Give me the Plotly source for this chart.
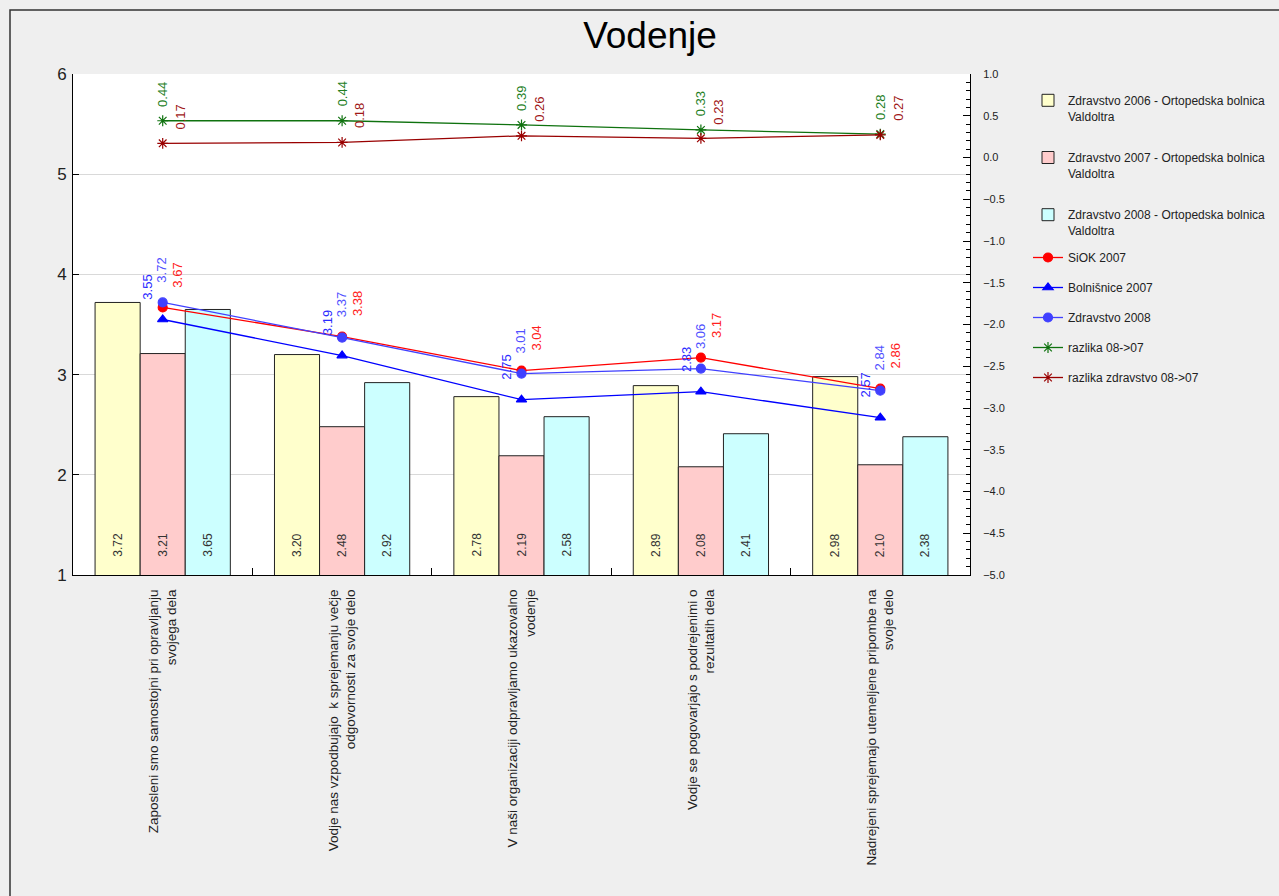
import plotly.graph_objects as go

# Survey questions (x categories)
categories = [
    "Zaposleni smo samostojni pri opravljanju<br>svojega dela",
    "Vodje nas vzpodbujajo  k sprejemanju večje<br>odgovornosti za svoje delo",
    "V naši organizaciji odpravljamo ukazovalno<br>vodenje",
    "Vodje se pogovarjajo s podrejenimi o<br>rezultatih dela",
    "Nadrejeni sprejemajo utemeljene pripombe na<br>svoje delo",
]

# Bar series (left axis)
zdravstvo_2006 = [3.72, 3.20, 2.78, 2.89, 2.98]
zdravstvo_2007 = [3.21, 2.48, 2.19, 2.08, 2.10]
zdravstvo_2008 = [3.65, 2.92, 2.58, 2.41, 2.38]

# Line series (left axis)
siok_2007 = [3.67, 3.38, 3.04, 3.17, 2.86]
bolnisnice_2007 = [3.55, 3.19, 2.75, 2.83, 2.57]
zdravstvo_2008_avg = [3.72, 3.37, 3.01, 3.06, 2.84]

# Differences (right axis)
razlika_08_07 = [0.44, 0.44, 0.39, 0.33, 0.28]
razlika_zdr_08_07 = [0.17, 0.18, 0.26, 0.23, 0.27]

FONT = "Liberation Sans, Arial, sans-serif"

fig = go.Figure()

bar_series = [
    ("Zdravstvo 2006 - Ortopedska bolnica<br>Valdoltra", zdravstvo_2006, "#ffffcc"),
    ("Zdravstvo 2007 - Ortopedska bolnica<br>Valdoltra", zdravstvo_2007, "#ffcccc"),
    ("Zdravstvo 2008 - Ortopedska bolnica<br>Valdoltra", zdravstvo_2008, "#ccffff"),
]
for i, (name, vals, col) in enumerate(bar_series):
    fig.add_trace(go.Bar(
        x=categories, y=vals, name=name,
        marker=dict(color=col, line=dict(color="#222222", width=1)),
        legend="legend", legendgroup="b%d" % i,
    ))

line_series = [
    ("SiOK 2007", siok_2007, "#ff0000", "circle", 9, "y", "#ff2020"),
    ("Bolnišnice 2007", bolnisnice_2007, "#0000ff", "triangle-up", 9, "y", "#2a2aff"),
    ("Zdravstvo 2008", zdravstvo_2008_avg, "#4040ff", "circle", 9, "y", "#5050ff"),
    ("razlika 08->07", razlika_08_07, "#0f720f", "asterisk-open", 9, "y2", "#1f7f1f"),
    ("razlika zdravstvo 08->07", razlika_zdr_08_07, "#990000", "asterisk-open", 9, "y2", "#a01818"),
]
for i, (name, vals, col, sym, size, yax, _) in enumerate(line_series):
    fig.add_trace(go.Scatter(
        x=categories, y=vals, name=name, yaxis=yax,
        mode="lines+markers",
        line=dict(color=col, width=1.3),
        marker=dict(symbol=sym, size=size, color=col, line=dict(color=col, width=1.2)),
        legend="legend2", legendgroup="l%d" % i,
    ))

annotations = []

# Value labels at the foot of each bar
for k, (name, vals, col) in enumerate(bar_series):
    shift = (k - 1) * 45
    for c, v in zip(categories, vals):
        annotations.append(dict(
            x=c, y=1, xref="x", yref="y", xshift=shift, yshift=16,
            text="%.2f" % v, textangle=-90, showarrow=False,
            xanchor="center", yanchor="bottom",
            font=dict(family=FONT, size=12, color="#333333"),
        ))

# Value labels above the line points
label_offsets = {
    "SiOK 2007": (15, 18),
    "Bolnišnice 2007": (-15, 18),
    "Zdravstvo 2008": (-1, 18),
    "razlika 08->07": (0, 12),
    "razlika zdravstvo 08->07": (18, 12),
}
for name, vals, col, sym, size, yax, tcol in line_series:
    dx, dy = label_offsets[name]
    for c, v in zip(categories, vals):
        annotations.append(dict(
            x=c, y=v, xref="x", yref=yax, xshift=dx, yshift=dy,
            text="%.2f" % v, textangle=-90, showarrow=False,
            xanchor="center", yanchor="bottom",
            font=dict(family=FONT, size=13, color=tcol),
        ))

W, H = 1279, 896
L, R, T, B = 73, 970, 74, 575

fig.update_layout(
    width=W, height=H,
    margin=dict(l=L, r=W - R, t=T, b=H - B),
    paper_bgcolor="#efefef",
    plot_bgcolor="#ffffff",
    font=dict(family=FONT, color="#222222"),
    title=dict(text="Vodenje", x=650 / W, xref="container", y=1 - 35 / H,
               yref="container", xanchor="center", yanchor="middle",
               font=dict(family=FONT, size=37, color="#000000")),
    barmode="group", bargap=0.246, bargroupgap=0,
    showlegend=True,
    legend=dict(
        xref="container", yref="container", x=1028 / W, y=1 - 86 / H,
        xanchor="left", yanchor="top", bgcolor="rgba(0,0,0,0)",
        font=dict(family=FONT, size=12, color="#222222"),
        traceorder="grouped", tracegroupgap=23, valign="top",
    ),
    legend2=dict(
        xref="container", yref="container", x=1028 / W, y=1 - 243 / H,
        xanchor="left", yanchor="top", bgcolor="rgba(0,0,0,0)",
        font=dict(family=FONT, size=12, color="#222222"),
        traceorder="grouped", tracegroupgap=11,
    ),
    xaxis=dict(
        type="category", showline=True, linecolor="#000000", linewidth=1,
        ticks="inside", ticklen=7, tickcolor="#000000", tickson="boundaries",
        tickangle=-90, tickfont=dict(family=FONT, size=13.5, color="#222222"),
        ticklabelstandoff=8, showgrid=False, zeroline=False,
    ),
    yaxis=dict(
        range=[1, 6], dtick=1, showline=True, linecolor="#000000", linewidth=1,
        ticks="inside", ticklen=6, tickcolor="#000000",
        tickfont=dict(family=FONT, size=17, color="#222222"),
        ticklabelstandoff=2,
        showgrid=True, gridcolor="#d9d9d9", gridwidth=1, zeroline=False,
    ),
    yaxis2=dict(
        overlaying="y", side="right", range=[-5, 1], dtick=0.5,
        tickformat=".1f", showline=True, linecolor="#000000", linewidth=1,
        ticks="inside", ticklen=7, tickcolor="#000000",
        minor=dict(dtick=0.1, ticks="inside", ticklen=4, tickcolor="#000000"),
        tickfont=dict(family=FONT, size=11, color="#222222"),
        ticklabelstandoff=10,
        showgrid=False, zeroline=False,
    ),
    annotations=annotations,
)

# Outer frame around the chart
pw, ph = R - L, B - T
fig.add_shape(
    type="rect", xref="paper", yref="paper",
    x0=(10 - L) / pw, x1=(W + 20 - L) / pw,
    y0=(B - (H + 20)) / ph, y1=(B - 10) / ph,
    line=dict(color="#333333", width=1.5), fillcolor="rgba(0,0,0,0)",
    layer="below",
)

fig.write_html("out.html")
